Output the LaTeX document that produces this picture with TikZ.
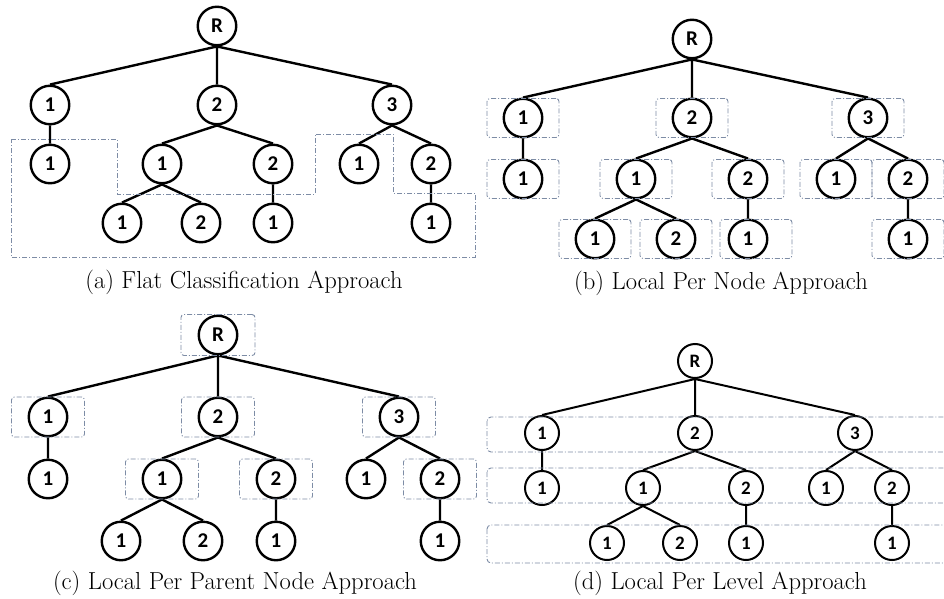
\documentclass[tikz,border=0pt]{standalone}
\usepackage{fontspec}
\newfontfamily\labelfont{Carlito}
\definecolor{groupgray}{RGB}{125,140,165}

\begin{document}
\begin{tikzpicture}[x=1pt, y=-1pt, font=\fontsize{24.6}{28}\selectfont]
  \tikzstyle{treenode}=[draw, circle, line width=2.4pt, minimum size=38.5pt, inner sep=0pt, fill=white, font=\labelfont\bfseries\fontsize{21}{21}\selectfont]
  \tikzstyle{smallnode}=[treenode, line width=2pt, minimum size=34pt, font=\labelfont\bfseries\fontsize{19}{19}\selectfont]
  \tikzstyle{treeedge}=[line width=2.4pt]
  \tikzstyle{groupline}=[draw=groupgray, line width=0.9pt, dash pattern=on 5pt off 2pt on 1pt off 2pt]
  \tikzstyle{groupbox}=[groupline, rounded corners=3pt, minimum width=72pt, minimum height=39pt, inner sep=0pt]

  \useasboundingbox (0,0) rectangle (944,599);

  % (a) flat
  \node[treenode] (aR) at (217,26) {R};
  \node[treenode] (a1) at (50,105) {1};
  \node[treenode] (a2) at (217,105) {2};
  \node[treenode] (a3) at (392,105) {3};
  \node[treenode] (a11) at (50,164) {1};
  \node[treenode] (a21) at (162,164) {1};
  \node[treenode] (a22) at (273,164) {2};
  \node[treenode] (a31) at (359,164) {1};
  \node[treenode] (a32) at (431,164) {2};
  \node[treenode] (a211) at (122,223) {1};
  \node[treenode] (a212) at (201,223) {2};
  \node[treenode] (a221) at (273,223) {1};
  \node[treenode] (a321) at (431,223) {1};

  \draw[treeedge] (aR.south) -- (a1.north) (aR.south) -- (a2.north) (aR.south) -- (a3.north);
  \draw[treeedge] (a1.south) -- (a11.north) (a2.south) -- (a21.north) (a2.south) -- (a22.north)
    (a3.south) -- (a31.north) (a3.south) -- (a32.north);
  \draw[treeedge] (a21.south) -- (a211.north) (a21.south) -- (a212.north)
    (a22.south) -- (a221.north) (a32.south) -- (a321.north);

  \draw[groupline] (11,139) -- (117,139) -- (117,194) -- (315,194) -- (315,134) -- (393,134)
    -- (393,193) -- (475,193) -- (475,257) -- (11,257) -- cycle;

  \node (acap) at (244,282) {(a) Flat Classification Approach};

  % (b) per node
  \node[treenode] (bR) at (692,39) {R};
  \node[treenode] (b1) at (523,118) {1};
  \node[treenode] (b2) at (692,118) {2};
  \node[treenode] (b3) at (868,118) {3};
  \node[treenode] (b11) at (523,179) {1};
  \node[treenode] (b21) at (636,179) {1};
  \node[treenode] (b22) at (748,179) {2};
  \node[treenode] (b31) at (836,179) {1};
  \node[treenode] (b32) at (908,179) {2};
  \node[treenode] (b211) at (595,239) {1};
  \node[treenode] (b212) at (676,239) {2};
  \node[treenode] (b221) at (748,239) {1};
  \node[treenode] (b321) at (908,239) {1};

  \draw[treeedge] (bR.south) -- (b1.north) (bR.south) -- (b2.north) (bR.south) -- (b3.north);
  \draw[treeedge] (b1.south) -- (b11.north) (b2.south) -- (b21.north) (b2.south) -- (b22.north)
    (b3.south) -- (b31.north) (b3.south) -- (b32.north);
  \draw[treeedge] (b21.south) -- (b211.north) (b21.south) -- (b212.north)
    (b22.south) -- (b221.north) (b32.south) -- (b321.north);

  \node[groupbox] (b1box) at (b1) {};
  \node[groupbox] (b2box) at (b2) {};
  \node[groupbox] (b3box) at (b3) {};
  \node[groupbox] (b11box) at (b11) {};
  \node[groupbox] (b21box) at (b21) {};
  \node[groupbox] (b22box) at (b22) {};
  \node[groupbox] (b31box) at (b31) {};
  \node[groupbox] (b32box) at (b32) {};
  \node[groupbox] (b211box) at (b211) {};
  \node[groupbox] (b212box) at (b212) {};
  \node[groupbox, xshift=8pt] (b221box) at (b221) {};
  \node[groupbox] (b321box) at (b321) {};

  \node (bcap) at (721,283) {(b) Local Per Node Approach};

  % (c) per parent node
  \node[treenode] (cR) at (218,335) {R};
  \node[treenode] (c1) at (48,417) {1};
  \node[treenode] (c2) at (218,417) {2};
  \node[treenode] (c3) at (399,417) {3};
  \node[treenode] (c11) at (48,479) {1};
  \node[treenode] (c21) at (162,479) {1};
  \node[treenode] (c22) at (276,479) {2};
  \node[treenode] (c31) at (366,479) {1};
  \node[treenode] (c32) at (440,479) {2};
  \node[treenode] (c211) at (121,541) {1};
  \node[treenode] (c212) at (203,541) {2};
  \node[treenode] (c221) at (276,541) {1};
  \node[treenode] (c321) at (440,541) {1};

  \draw[treeedge] (cR.south) -- (c1.north) (cR.south) -- (c2.north) (cR.south) -- (c3.north);
  \draw[treeedge] (c1.south) -- (c11.north) (c2.south) -- (c21.north) (c2.south) -- (c22.north)
    (c3.south) -- (c31.north) (c3.south) -- (c32.north);
  \draw[treeedge] (c21.south) -- (c211.north) (c21.south) -- (c212.north)
    (c22.south) -- (c221.north) (c32.south) -- (c321.north);

  \node[groupbox, minimum width=74pt, minimum height=41pt] (cRbox) at (cR) {};
  \node[groupbox, minimum width=73pt, minimum height=40pt] (c1box) at (c1) {};
  \node[groupbox, minimum width=73pt, minimum height=40pt] (c2box) at (c2) {};
  \node[groupbox, minimum width=73pt, minimum height=40pt] (c3box) at (c3) {};
  \node[groupbox, minimum width=73pt, minimum height=40pt] (c21box) at (c21) {};
  \node[groupbox, minimum width=73pt, minimum height=40pt] (c22box) at (c22) {};
  \node[groupbox, minimum width=73pt, minimum height=40pt] (c32box) at (c32) {};

  \node (ccap) at (235,583) {(c) Local Per Parent Node Approach};

  % (d) per level
  \node[smallnode] (dR) at (695,361) {R};
  \node[smallnode] (d1) at (542,433) {1};
  \node[smallnode] (d2) at (695,433) {2};
  \node[smallnode] (d3) at (855,433) {3};
  \node[smallnode] (d11) at (542,488) {1};
  \node[smallnode] (d21) at (643,488) {1};
  \node[smallnode] (d22) at (746,488) {2};
  \node[smallnode] (d31) at (826,488) {1};
  \node[smallnode] (d32) at (892,488) {2};
  \node[smallnode] (d211) at (607,543) {1};
  \node[smallnode] (d212) at (680,543) {2};
  \node[smallnode] (d221) at (746,543) {1};
  \node[smallnode] (d321) at (892,543) {1};

  \draw[treeedge, line width=2pt] (dR.south) -- (d1.north) (dR.south) -- (d2.north) (dR.south) -- (d3.north);
  \draw[treeedge, line width=2pt] (d1.south) -- (d11.north) (d2.south) -- (d21.north) (d2.south) -- (d22.north)
    (d3.south) -- (d31.north) (d3.south) -- (d32.north);
  \draw[treeedge, line width=2pt] (d21.south) -- (d211.north) (d21.south) -- (d212.north)
    (d22.south) -- (d221.north) (d32.south) -- (d321.north);

  \draw[groupline, rounded corners=4pt] (487,417) rectangle (960,452);
  \draw[groupline, rounded corners=4pt] (487,468) rectangle (960,503);
  \draw[groupline, rounded corners=4pt] (487,525) rectangle (960,563);

  \node (dcap) at (720,583) {(d) Local Per Level Approach};
\end{tikzpicture}
\end{document}
